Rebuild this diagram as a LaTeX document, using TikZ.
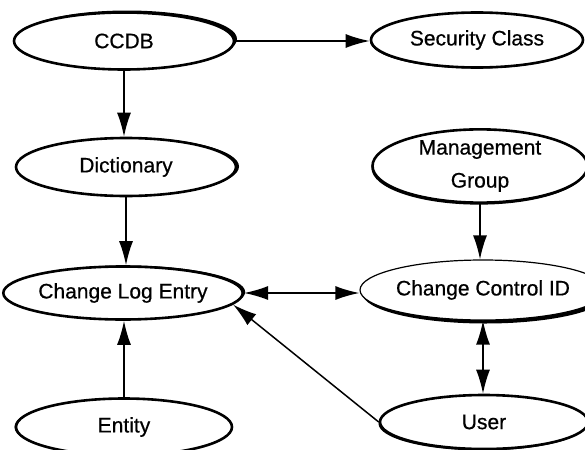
\documentclass[tikz,border=0pt]{standalone}
\usepackage{fontspec}
\setmainfont[FakeBold=0.6]{Liberation Sans}
\usetikzlibrary{arrows.meta,shapes,shadows}

\begin{document}
\begin{tikzpicture}[
  ent/.style={draw,ellipse,fill=white,line width=2.6bp,inner sep=0pt,align=center,font=\fontsize{21bp}{33bp}\selectfont},
  shd/.style 2 args={drop shadow={shadow xshift=#1,shadow yshift=#2,fill=black,opacity=1}},
  lnk/.style={line width=1.5bp,-{Latex[length=24bp,width=14bp]}},
  both/.style={line width=1.5bp,{Latex[length=24bp,width=14bp]}-{Latex[length=24bp,width=14bp]}}
]
\useasboundingbox (0bp,0bp) rectangle (585bp,-450bp);

\node (CCDB) at (124bp,-41bp)[ent,shd={3bp}{2bp},minimum width=220bp,minimum height=57bp] {CCDB};
\node (SecClass) at (477bp,-40bp)[ent,shd={-1bp}{-1bp},minimum width=212bp,minimum height=55bp] {Security Class};
\node (Dict) at (126bp,-167bp)[ent,shd={3bp}{0.5bp},minimum width=220bp,minimum height=58bp] {Dictionary};
\node (MgmtGrp) at (480bp,-166bp)[ent,shd={-1bp}{-2bp},minimum width=215bp,minimum height=71bp] {Management\\Group};
\node (ChgLog) at (123bp,-293bp)[ent,shd={2.5bp}{1bp},minimum width=214bp,minimum height=53bp] {Change Log Entry};
\node (ChgCtl) at (483bp,-290bp)[ent,line width=1.2bp,shd={2.5bp}{-3.5bp},minimum width=210bp,minimum height=60bp] {Change Control ID};
\node (Entity) at (124bp,-427bp)[ent,shd={-1.5bp}{0bp},minimum width=216bp,minimum height=57bp] {Entity};
\node (User) at (484bp,-422bp)[ent,shd={-1.5bp}{-1.5bp},minimum width=208bp,minimum height=54bp] {User};

\draw [lnk] (CCDB.east) -- (CCDB.east -| SecClass.west);
\draw [lnk] (CCDB.south) -- (CCDB.south |- Dict.north);
\draw [lnk] (Dict.south) -- (Dict.south |- ChgLog.north);
\draw [lnk] (Entity.north) -- (Entity.north |- ChgLog.south);
\draw [lnk] (MgmtGrp.south) -- (MgmtGrp.south |- ChgCtl.north);
\draw [both] (ChgLog.east) -- (ChgLog.east -| ChgCtl.west);
\draw [both] (ChgCtl.south) -- (ChgCtl.south |- User.north);
\draw [lnk] (User.west) -- (ChgLog.-6);
\end{tikzpicture}
\end{document}
